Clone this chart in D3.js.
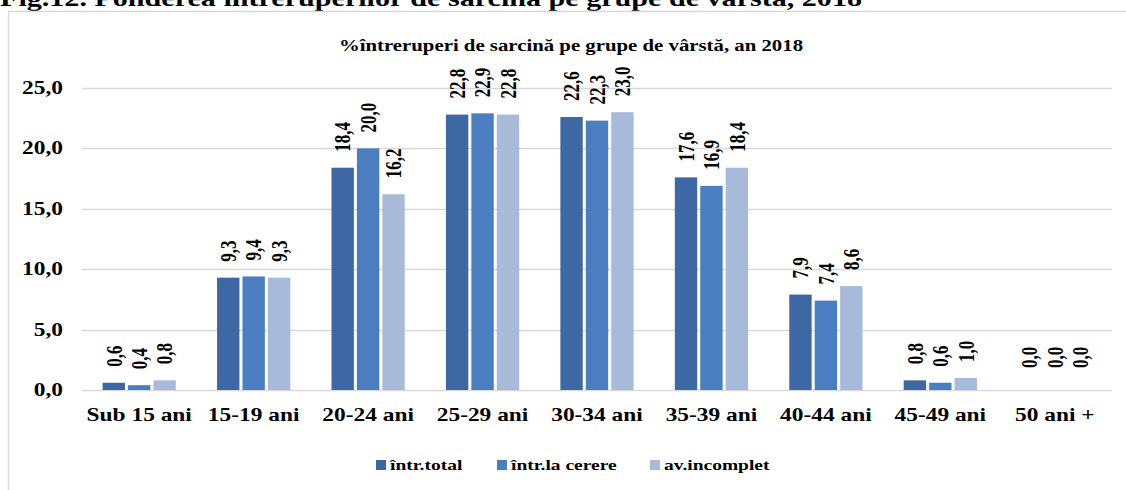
<!DOCTYPE html>
<html>
<head>
<meta charset="utf-8">
<script src="https://cdn.jsdelivr.net/npm/d3@7"></script>
<style>
  html, body { margin: 0; padding: 0; background: #fff; }
  svg { display: block; }
  text { font-family: "Liberation Serif", "Times New Roman", serif; font-weight: bold; fill: #000; }
</style>
</head>
<body>
<div id="chart"></div>
<script>
// data
var categories = ["Sub 15 ani", "15-19 ani", "20-24 ani", "25-29 ani", "30-34 ani", "35-39 ani", "40-44 ani", "45-49 ani", "50 ani +"];
var seriesNames = ["într.total", "într.la cerere", "av.incomplet"];
var intrTotal   = [0.6, 9.3, 18.4, 22.8, 22.6, 17.6, 7.9, 0.8, 0.0];
var intrCerere  = [0.4, 9.4, 20.0, 22.9, 22.3, 16.9, 7.4, 0.6, 0.0];
var avIncomplet = [0.8, 9.3, 16.2, 22.8, 23.0, 18.4, 8.6, 1.0, 0.0];
var yTicks = [0, 5, 10, 15, 20, 25];
var chartTitle = "%întreruperi de sarcină pe grupe de vârstă, an 2018";
var figTitle = "Fig.12. Ponderea întreruperilor de sarcină pe grupe de vârstă, 2018";

var colors = ["#3d68a3", "#4a7ec0", "#a7bad9"];
var stretch = 1.3; // text in the picture is wider than normal

var W = 1126, H = 490;
var plot = {left: 82, right: 1112, top: 88, bottom: 390};

var svg = d3.select("#chart").append("svg")
  .attr("width", W)
  .attr("height", H);

// figure caption, cut off by the top edge
svg.append("text")
  .attr("x", 0)
  .attr("y", 6)
  .attr("font-size", 24)
  .attr("textLength", 862)
  .attr("lengthAdjust", "spacingAndGlyphs")
  .text(figTitle);

// chart frame (only top and left edges are in view)
svg.append("path")
  .attr("d", "M8.5," + H + "V11.5H" + W)
  .attr("fill", "none")
  .attr("stroke", "#d9d9d9")
  .attr("stroke-width", 1.5);

var x = d3.scaleBand()
  .domain(categories)
  .range([plot.left, plot.right])
  .paddingInner(0.36)
  .paddingOuter(0.18);

var xs = d3.scaleBand()
  .domain(d3.range(seriesNames.length))
  .range([0, x.bandwidth()])
  .paddingInner(0.12);

var y = d3.scaleLinear()
  .domain([0, 25])
  .range([plot.bottom, plot.top]);

// stretched text helper
function stext(g, px, py, str, size, anchor, rotate) {
  var t = g.append("text")
    .attr("transform", "translate(" + px + "," + py + ") scale(" + stretch + ",1)" + (rotate ? " rotate(" + rotate + ")" : ""))
    .attr("font-size", size)
    .attr("text-anchor", anchor || "start")
    .text(str);
  return t;
}

var fmt = function (v) { return d3.format(".1f")(v).replace(".", ","); };

// gridlines
svg.append("g")
  .selectAll("line")
  .data(yTicks)
  .enter().append("line")
  .attr("x1", plot.left)
  .attr("x2", plot.right)
  .attr("y1", function (d) { return Math.round(y(d)) + 0.5; })
  .attr("y2", function (d) { return Math.round(y(d)) + 0.5; })
  .attr("stroke", "#d9d9d9")
  .attr("stroke-width", 1.5);

// y tick labels
var yl = svg.append("g");
yTicks.forEach(function (d) {
  stext(yl, 63, y(d) + 6, fmt(d), 18, "end");
});

// bars
var series = [intrTotal, intrCerere, avIncomplet];
var barsG = svg.append("g");
series.forEach(function (vals, si) {
  barsG.selectAll(".bar" + si)
    .data(vals)
    .enter().append("rect")
    .attr("class", "bar" + si)
    .attr("x", function (d, i) { return x(categories[i]) + xs(si); })
    .attr("width", xs.bandwidth())
    .attr("y", function (d) { return y(d); })
    .attr("height", function (d) { return y(0) - y(d); })
    .attr("fill", colors[si]);
});

// rotated value labels
var lab = svg.append("g");
series.forEach(function (vals, si) {
  vals.forEach(function (v, i) {
    var cx = x(categories[i]) + xs(si) + xs.bandwidth() / 2;
    var gap = v === 0 ? 22 : 16;
    stext(lab, cx, y(v) - gap, fmt(v), 17, "start", -90)
      .attr("dy", "0.35em");
  });
});

// x labels
var xl = svg.append("g");
categories.forEach(function (c) {
  stext(xl, x(c) + x.bandwidth() / 2, 421, c, 18, "middle");
});

// chart title
stext(svg, 571, 51, chartTitle, 16, "middle");

// legend
var legendX = [376, 497, 650];
var lg = svg.append("g");
seriesNames.forEach(function (s, i) {
  lg.append("rect")
    .attr("x", legendX[i])
    .attr("y", 460)
    .attr("width", 10)
    .attr("height", 10)
    .attr("fill", colors[i]);
  stext(lg, legendX[i] + 14, 470, s, 15, "start");
});
</script>
</body>
</html>
